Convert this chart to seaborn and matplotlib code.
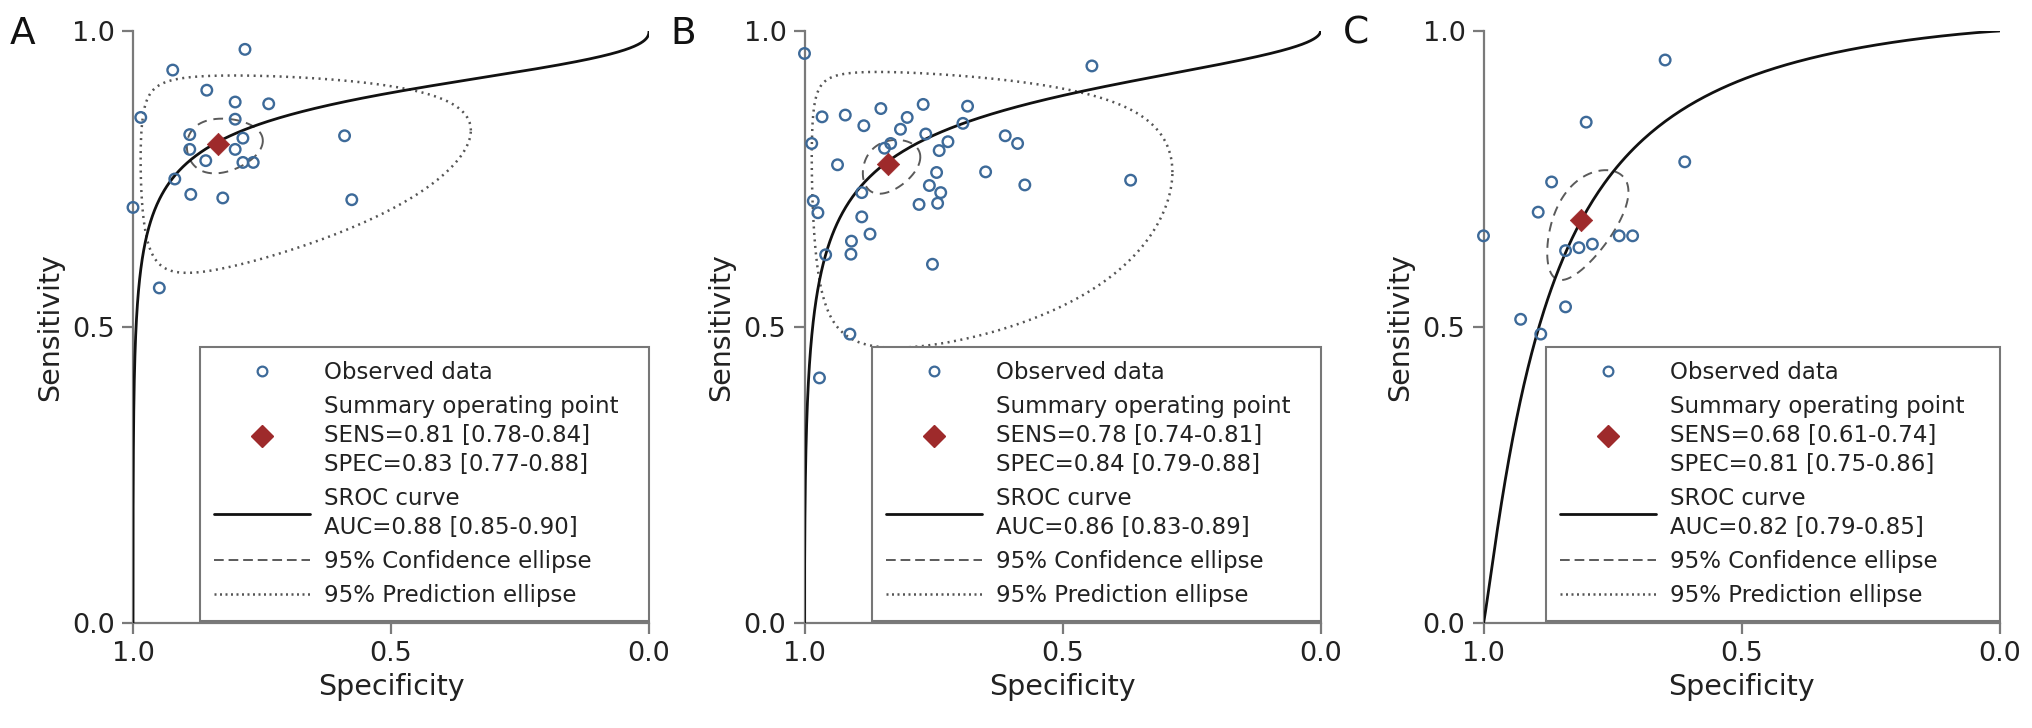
import numpy as np
import matplotlib
matplotlib.use("Agg")
import matplotlib.pyplot as plt
import seaborn as sns
from matplotlib.lines import Line2D

# ---------------- data ----------------
A_spec = [0.783, 0.923, 0.857, 0.802, 0.737, 0.985, 0.802, 0.890, 0.787, 0.590, 0.890,
          0.802, 0.859, 0.787, 0.767, 0.919, 0.888, 0.826, 0.576, 1.000, 0.949]
A_sens = [0.969, 0.934, 0.900, 0.880, 0.877, 0.854, 0.851, 0.825, 0.819, 0.823, 0.800,
          0.800, 0.781, 0.778, 0.778, 0.750, 0.724, 0.718, 0.715, 0.702, 0.566]

B_spec = [1.000, 0.966, 0.921, 0.852, 0.885, 0.801, 0.814, 0.833, 0.845, 0.986, 0.936,
          0.770, 0.778, 0.889, 0.983, 0.974, 0.889, 0.873, 0.909, 0.910, 0.959, 0.443,
          0.684, 0.693, 0.765, 0.722, 0.739, 0.611, 0.587, 0.649, 0.744, 0.758, 0.736,
          0.742, 0.573, 0.368, 0.752, 0.912, 0.971]
B_sens = [0.962, 0.855, 0.858, 0.869, 0.840, 0.854, 0.834, 0.810, 0.802, 0.810, 0.774,
          0.876, 0.707, 0.727, 0.713, 0.693, 0.686, 0.657, 0.645, 0.623, 0.622, 0.941,
          0.873, 0.844, 0.826, 0.813, 0.798, 0.823, 0.810, 0.762, 0.761, 0.739, 0.727,
          0.709, 0.740, 0.748, 0.606, 0.488, 0.414]

C_spec = [0.648, 0.801, 0.610, 0.868, 0.894, 1.000, 0.737, 0.711, 0.789, 0.815, 0.841,
          0.841, 0.928, 0.889]
C_sens = [0.951, 0.846, 0.779, 0.745, 0.694, 0.654, 0.654, 0.654, 0.640, 0.634, 0.629,
          0.534, 0.513, 0.488]

# summary operating points (spec, sens)
summary_A = [0.835, 0.809]
summary_B = [0.839, 0.775]
summary_C = [0.811, 0.681]

# SROC curve: logit(sens) = intercept + slope * logit(1 - spec)
sroc_A = [2.15, 0.42]
sroc_B = [2.10, 0.508]
sroc_C = [2.407, 1.137]

# ellipses in logit space: [centre logit(fpr), centre logit(sens), half-width, half-height, correlation]
conf_A = [-1.62, 1.45, 0.53, 0.30, 0.10]
pred_A = [-1.78, 1.44, 2.42, 1.07, 0.15]
conf_B = [-1.65, 1.23, 0.41, 0.26, 0.30]
pred_B = [-1.67, 1.23, 2.58, 1.37, -0.05]
conf_C = [-1.45, 0.75, 0.51, 0.43, 0.55]
pred_C = None

labels_A = ["Summary operating point\nSENS=0.81 [0.78-0.84]\nSPEC=0.83 [0.77-0.88]",
            "SROC curve\nAUC=0.88 [0.85-0.90]"]
labels_B = ["Summary operating point\nSENS=0.78 [0.74-0.81]\nSPEC=0.84 [0.79-0.88]",
            "SROC curve\nAUC=0.86 [0.83-0.89]"]
labels_C = ["Summary operating point\nSENS=0.68 [0.61-0.74]\nSPEC=0.81 [0.75-0.86]",
            "SROC curve\nAUC=0.82 [0.79-0.85]"]

panel_letters = ["A", "B", "C"]
tick_values = [0.0, 0.5, 1.0]
tick_labels = ["0.0", "0.5", "1.0"]

# ---------------- style ----------------
sns.set_style("ticks")
plt.rcParams["font.family"] = ["DejaVu Sans"]

BLUE = "#3d6a99"
RED = "#9e2a2b"
AXC = "#7a7a7a"
TXT = "#222222"


def expit(z):
    return 1.0 / (1.0 + np.exp(-z))


def sroc_curve(params):
    a, b = params
    z = np.linspace(-16, 16, 1500)
    fpr = expit(z)
    sens = expit(a + b * z)
    spec = np.concatenate([[1.0], 1 - fpr, [0.0]])
    sens = np.concatenate([[0.0], sens, [1.0]])
    return spec, sens


def ellipse(params):
    cx, cy, hx, hy, r = params
    t = np.linspace(0, 2 * np.pi, 600)
    x = cx + hx * np.cos(t)
    y = cy + hy * (r * np.cos(t) + np.sqrt(1 - r * r) * np.sin(t))
    return 1 - expit(x), expit(y)


W, H = 2032, 728
fig = plt.figure(figsize=(W / 100, H / 100), dpi=100)

panels = [
    (133, A_spec, A_sens, summary_A, sroc_A, conf_A, pred_A, labels_A, 10),
    (804.5, B_spec, B_sens, summary_B, sroc_B, conf_B, pred_B, labels_B, 670),
    (1483.5, C_spec, C_sens, summary_C, sroc_C, conf_C, pred_C, labels_C, 1343),
]
ax_w, ax_bottom, ax_h = 516, 105, 592
legend_left = [0.13, 0.131, 0.121]

for i, (left, sp, se, summ, sroc, conf, pred, labs, letter_x) in enumerate(panels):
    ax = fig.add_axes([left / W, ax_bottom / H, ax_w / W, ax_h / H])

    # prediction ellipse
    if pred is not None:
        ex, ey = ellipse(pred)
        sns.lineplot(x=ex, y=ey, sort=False, estimator=None, ax=ax, color="#555555",
                     linewidth=1.8, linestyle=(0, (0.8, 1.8)), zorder=2)
    # confidence ellipse
    ex, ey = ellipse(conf)
    sns.lineplot(x=ex, y=ey, sort=False, estimator=None, ax=ax, color="#5a5a5a",
                 linewidth=1.4, linestyle=(0, (5, 3.5)), zorder=3)
    # SROC curve
    cx, cy = sroc_curve(sroc)
    sns.lineplot(x=cx, y=cy, sort=False, estimator=None, ax=ax, color="#111111",
                 linewidth=2.0, zorder=4)
    # observed data
    sns.scatterplot(x=sp, y=se, ax=ax, marker="o", s=58, facecolor="none",
                    edgecolor=BLUE, linewidth=1.7, zorder=5, clip_on=False)
    # summary point
    sns.scatterplot(x=[summ[0]], y=[summ[1]], ax=ax, marker="D", s=130, color=RED,
                    edgecolor=RED, linewidth=0.5, zorder=6)

    ax.set_xlim(1, 0)
    ax.set_ylim(0, 1)
    ax.set_xticks(tick_values)
    ax.set_xticklabels(tick_labels)
    ax.set_yticks(tick_values)
    ax.set_yticklabels(tick_labels)
    for s in ["top", "right"]:
        ax.spines[s].set_visible(False)
    for s in ["left", "bottom"]:
        ax.spines[s].set_color(AXC)
        ax.spines[s].set_linewidth(1.6)
    ax.tick_params(direction="out", length=8, width=1.6, color=AXC,
                   labelsize=19.5, labelcolor=TXT, pad=5)
    ax.set_xlabel("Specificity", fontsize=20.5, color=TXT, labelpad=4)
    ax.set_ylabel("Sensitivity", fontsize=20.5, color=TXT, labelpad=6)

    handles = [
        Line2D([], [], marker="o", linestyle="none", markerfacecolor="none",
               markeredgecolor=BLUE, markersize=7, markeredgewidth=1.6),
        Line2D([], [], marker="D", linestyle="none", color=RED, markersize=11),
        Line2D([], [], color="#111111", linewidth=2.0),
        Line2D([], [], color="#5a5a5a", linewidth=1.4, linestyle=(0, (5, 2.5))),
        Line2D([], [], color="#555555", linewidth=1.8, linestyle=(0, (0.8, 1.4))),
    ]
    texts = ["Observed data", labs[0], labs[1],
             "95% Confidence ellipse", "95% Prediction ellipse"]
    lx = legend_left[i]
    leg = ax.legend(handles, texts, loc="lower left",
                    bbox_to_anchor=(lx, 0.004, 1 - lx, 0.46), mode="expand",
                    borderaxespad=0, fontsize=16.5, handlelength=4.2,
                    handletextpad=0.6, labelspacing=0.48, borderpad=0.6,
                    frameon=True, fancybox=False, framealpha=1)
    leg.get_frame().set_edgecolor("#777777")
    leg.get_frame().set_linewidth(1.5)
    for t in leg.get_texts():
        t.set_color(TXT)
        t.set_linespacing(1.33)

    fig.text(letter_x / W, 1 - 16 / H, panel_letters[i], fontsize=27,
             ha="left", va="top", color="#111111")

fig.savefig("out.png", dpi=100)
